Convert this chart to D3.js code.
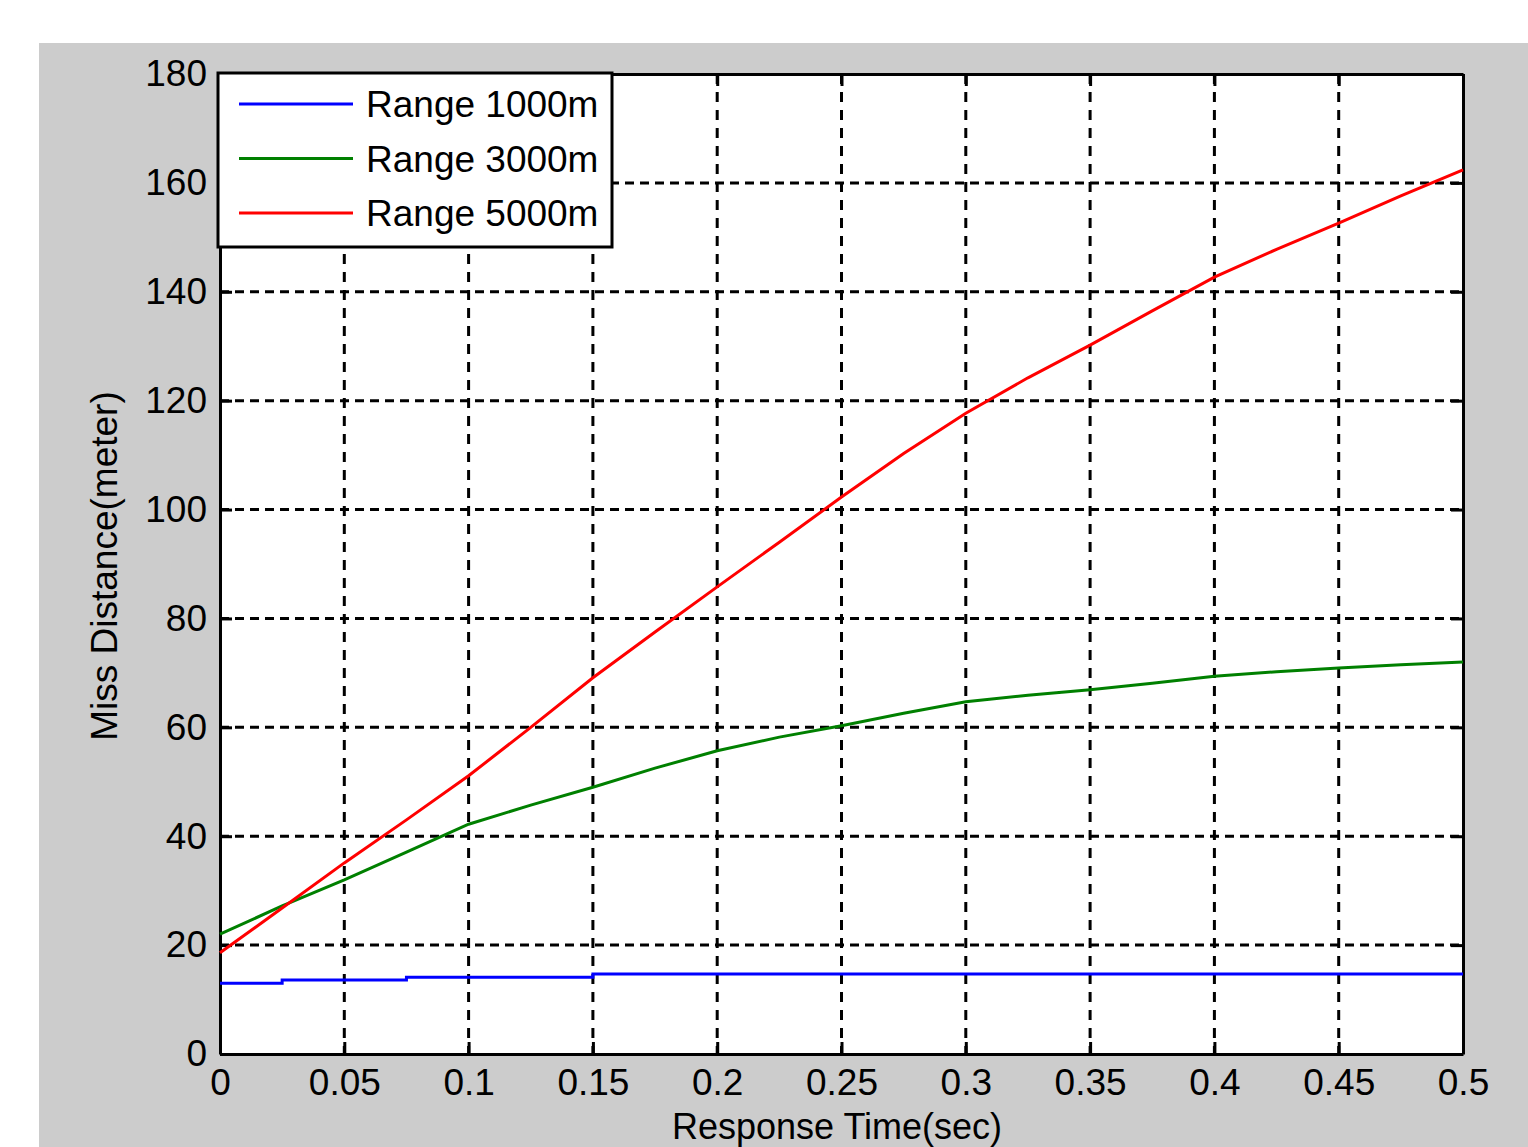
<!DOCTYPE html>
<html>
<head>
<meta charset="utf-8">
<script src="https://cdn.jsdelivr.net/npm/d3@7"></script>
<style>
  body { margin: 0; background: #fff; }
  svg { display: block; }
</style>
</head>
<body>
<div id="chart"></div>
<script>
// response time samples (sec)
var times = [0, 0.025, 0.05, 0.075, 0.1, 0.125, 0.15, 0.175, 0.2, 0.225, 0.25, 0.275,
             0.3, 0.325, 0.35, 0.375, 0.4, 0.425, 0.45, 0.475, 0.5];

// miss distance (meter) for each range
var range1000 = [13.0, 13.6, 13.6, 14.1, 14.1, 14.1, 14.7, 14.7, 14.7, 14.7, 14.7, 14.7,
                 14.7, 14.7, 14.7, 14.7, 14.7, 14.7, 14.7, 14.7, 14.7];
var range3000 = [22.0, 27.2, 32.0, 37.1, 42.2, 45.7, 49.0, 52.5, 55.7, 58.2, 60.3, 62.6,
                 64.7, 65.9, 66.9, 68.1, 69.4, 70.2, 70.9, 71.5, 72.0];
var range5000 = [18.6, 26.8, 35.1, 43.0, 51.1, 60.0, 69.1, 77.5, 85.8, 94.0, 102.3, 110.3,
                 117.7, 124.2, 130.2, 136.5, 142.7, 147.8, 152.6, 157.6, 162.4];

var seriesNames = ['Range 1000m', 'Range 3000m', 'Range 5000m'];
var seriesColors = ['#0000ff', '#008000', '#ff0000'];

var xTicks = [0, 0.05, 0.1, 0.15, 0.2, 0.25, 0.3, 0.35, 0.4, 0.45, 0.5];
var yTicks = [0, 20, 40, 60, 80, 100, 120, 140, 160, 180];

var totalWidth = 1528, totalHeight = 1147;
var margin = { top: 74, left: 220, right: 65, bottom: 93 };
var width = totalWidth - margin.left - margin.right;   // 1243
var height = totalHeight - margin.top - margin.bottom; // 980
var font = '"Liberation Sans", Arial, sans-serif';

var svg = d3.select('#chart').append('svg')
    .attr('width', totalWidth)
    .attr('height', totalHeight);

// grey figure background
svg.append('rect')
    .attr('x', 39).attr('y', 43)
    .attr('width', totalWidth - 39).attr('height', totalHeight - 43)
    .attr('fill', '#cccccc');

var g = svg.append('g')
    .attr('transform', 'translate(' + margin.left + ',' + margin.top + ')');

var xScale = d3.scaleLinear().domain([0, 0.5]).range([0, width]);
var yScale = d3.scaleLinear().domain([0, 180]).range([height, 0]);

g.append('rect')
    .attr('width', width).attr('height', height)
    .attr('fill', '#fff');

// dashed grid
g.append('g').selectAll('line')
    .data(xTicks.slice(1, -1))
    .enter().append('line')
    .attr('x1', d => xScale(d)).attr('x2', d => xScale(d))
    .attr('y1', 0).attr('y2', height)
    .attr('stroke', '#000').attr('stroke-width', 3)
    .attr('stroke-dasharray', '10,8');

g.append('g').selectAll('line')
    .data(yTicks.slice(1, -1))
    .enter().append('line')
    .attr('y1', d => yScale(d)).attr('y2', d => yScale(d))
    .attr('x1', 0).attr('x2', width)
    .attr('stroke', '#000').attr('stroke-width', 3)
    .attr('stroke-dasharray', '9,6');

// axes with inward ticks
var xAxis = d3.axisBottom(xScale).tickValues(xTicks).tickSizeInner(-12).tickSizeOuter(0)
    .tickPadding(15).tickFormat(d3.format('~g'));
var xAxisTop = d3.axisTop(xScale).tickValues(xTicks).tickSizeInner(-12).tickSizeOuter(0)
    .tickFormat('');
var yAxis = d3.axisLeft(yScale).tickValues(yTicks).tickSizeInner(-12).tickSizeOuter(0)
    .tickPadding(13);
var yAxisRight = d3.axisRight(yScale).tickValues(yTicks).tickSizeInner(-12).tickSizeOuter(0)
    .tickFormat('');

var axes = [
    g.append('g').attr('transform', 'translate(0,' + height + ')').call(xAxis),
    g.append('g').call(xAxisTop),
    g.append('g').call(yAxis),
    g.append('g').attr('transform', 'translate(' + width + ',0)').call(yAxisRight)
];
axes.forEach(function(a) {
    a.selectAll('.domain').attr('stroke', '#000').attr('stroke-width', 3);
    a.selectAll('line').attr('stroke', '#000').attr('stroke-width', 3);
    a.selectAll('text').attr('fill', '#000').attr('font-size', 37).attr('font-family', font);
});

// series lines
var seriesData = [range1000, range3000, range5000];
var stepLine = d3.line()
    .x((d, i) => xScale(times[i]))
    .y(d => yScale(d))
    .curve(d3.curveStepAfter);
var smoothLine = d3.line()
    .x((d, i) => xScale(times[i]))
    .y(d => yScale(d));

seriesData.forEach(function(vals, k) {
    g.append('path')
        .datum(vals)
        .attr('d', k === 0 ? stepLine : smoothLine)
        .attr('fill', 'none')
        .attr('stroke', seriesColors[k])
        .attr('stroke-width', 3);
});

// legend
var legend = svg.append('g').attr('transform', 'translate(218,73)');
legend.append('rect')
    .attr('width', 394).attr('height', 174)
    .attr('fill', '#fff').attr('stroke', '#000').attr('stroke-width', 3);
seriesNames.forEach(function(name, k) {
    var yy = 31 + k * 54.5;
    legend.append('line')
        .attr('x1', 21).attr('x2', 135).attr('y1', yy).attr('y2', yy)
        .attr('stroke', seriesColors[k]).attr('stroke-width', 3);
    legend.append('text')
        .attr('x', 148).attr('y', yy + 13)
        .attr('font-size', 37).attr('font-family', font)
        .text(name);
});

// axis labels
svg.append('text')
    .attr('x', 837).attr('y', 1139)
    .attr('text-anchor', 'middle')
    .attr('font-size', 36).attr('font-family', font)
    .text('Response Time(sec)');

svg.append('text')
    .attr('transform', 'translate(117,566) rotate(-90)')
    .attr('text-anchor', 'middle')
    .attr('font-size', 37).attr('font-family', font)
    .text('Miss Distance(meter)');
</script>
</body>
</html>
